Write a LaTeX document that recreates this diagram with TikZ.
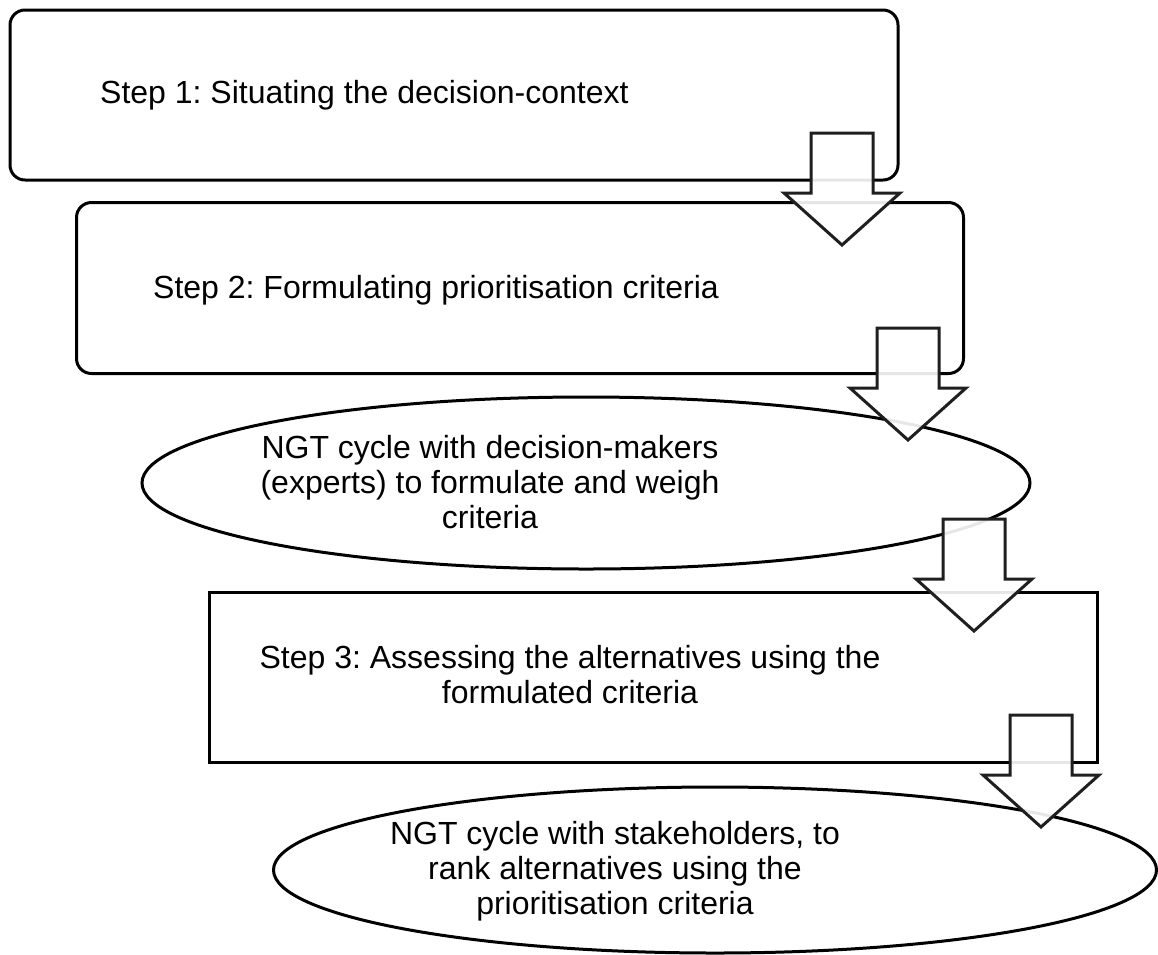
\documentclass[tikz,border=0pt]{standalone}
\usepackage{fontspec}
\setmainfont{Liberation Sans}
\usepackage{tikz}
\usetikzlibrary{shapes.geometric}
\frenchspacing

\tikzset{
  pics/downarrow/.style={code={
    \draw[arrowline] (-31,0) -- (31,0) -- (31,60) -- (58,60) -- (0,112)
      -- (-58,60) -- (-31,60) -- cycle;
  }}
}

\begin{document}
\begin{tikzpicture}[
  x=1pt,y=-1pt,
  stepbox/.style={draw,line width=3pt,rounded corners=15pt,inner sep=0pt},
  plainbox/.style={draw,line width=3pt,inner sep=0pt},
  cycle/.style={ellipse,draw,line width=3pt,inner sep=0pt},
  txt/.style={font=\fontsize{32}{35}\selectfont, align=center, inner sep=0pt},
  arrowline/.style={draw=black!88,line width=3pt,fill=white,fill opacity=0.9,line join=miter}
]
\useasboundingbox (0,0) rectangle (1158,954);

% -------------------------
% Step 1
% -------------------------
\node[stepbox,minimum width=888,minimum height=170] (s1) at (454,95) {};
\node[txt,anchor=west] (s1_text) at (100,95) {Step 1: Situating the decision-context};

% -------------------------
% Step 2
% -------------------------
\node[stepbox,minimum width=887,minimum height=171] (s2) at (520,288) {};
\node[txt,anchor=west] (s2_text) at (153,290) {Step 2: Formulating prioritisation criteria};

% -------------------------
% NGT cycle with experts
% -------------------------
\node[cycle,minimum width=888,minimum height=172] (c1) at (586,483) {};
\node[txt] (c1_text) at (490,482)
{NGT cycle with decision-makers\\(experts) to formulate and weigh\\criteria};

% -------------------------
% Step 3
% -------------------------
\node[plainbox,minimum width=888,minimum height=170] (s3) at (653,677) {};
\node[txt] (s3_text) at (570,675)
{Step 3: Assessing the alternatives using the\\formulated criteria};

% -------------------------
% NGT cycle with stakeholders
% -------------------------
\node[cycle,minimum width=883,minimum height=166] (c2) at (715,870) {};
\node[txt] (c2_text) at (615,871)
{NGT cycle with stakeholders, to\\rank alternatives using the\\prioritisation criteria};

% -------------------------
% Block arrows
% -------------------------
\pic (a1) at (842,133) {downarrow};
\pic (a2) at (908,328) {downarrow};
\pic (a3) at (974,519) {downarrow};
\pic (a4) at (1041,715) {downarrow};

\end{tikzpicture}
\end{document}
